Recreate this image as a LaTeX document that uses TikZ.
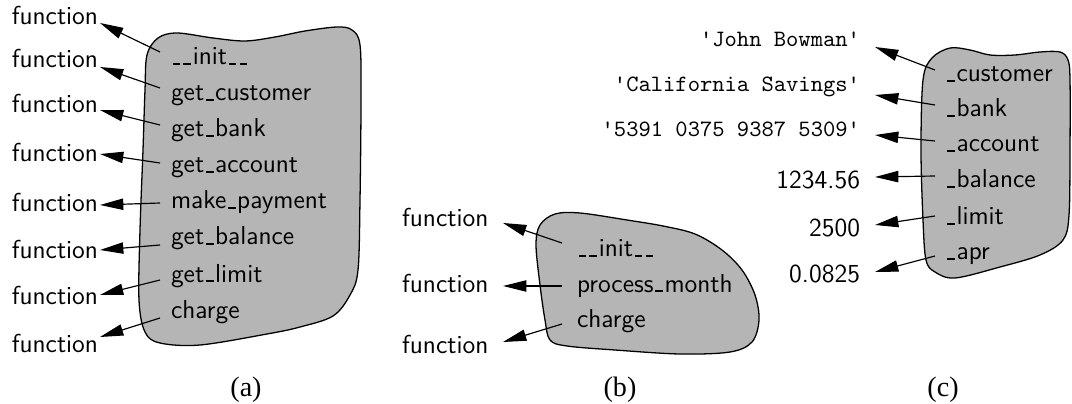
\documentclass[tikz,border=0pt]{standalone}
\usepackage{fontspec}
\setmainfont{Liberation Serif}
\usepackage{tikz}
\usetikzlibrary{arrows.meta}
\definecolor{blobfill}{gray}{0.71}
\newcommand{\usc}{\leavevmode\kern.06em\vbox{\hrule width .3em height .7pt}\kern.06em}
\newcommand{\cmtype}{\fontencoding{OT1}\fontfamily{cmtt}\fontsize{10}{12}\selectfont}
\newcommand{\sq}{{\char13\relax}}
\tikzset{
  blob/.style={draw, fill=blobfill, line width=0.55pt},
  member/.style={anchor=base west, inner sep=0pt, outer xsep=0.165cm, font=\sffamily\fontsize{11.1}{13}\selectfont},
  func/.style={anchor=base east, inner sep=0pt, outer xsep=0.03cm, font=\sffamily\fontsize{11.1}{13}\selectfont},
  strval/.style={func, outer xsep=0.225cm, font=\cmtype},
  numval/.style={func, outer xsep=0.225cm},
  ptr/.style={-{Triangle[length=0.35cm,width=0.17cm]}, line width=0.5pt},
  tag/.style={font=\fontsize{12}{14}\selectfont},
}

\begin{document}
\begin{tikzpicture}[x=0.015cm, y=-0.015cm]
\useasboundingbox (0,0) rectangle (1072,404);

%Blobs
\draw[blob] plot[smooth cycle, tension=0.55] coordinates {(147,55) (158,38) (177,33) (213,38) (245,41) (275,37) (305,31) (337,27) (352,30) (360,45) (361,100) (360,200) (358,270) (350,295) (333,316) (300,327) (267,334) (200,345) (160,343) (145,332) (139,300) (140,230) (143,150) (145,90)};
\draw[blob] plot[smooth cycle, tension=0.55] coordinates {(536,245) (540,225) (555,214) (580,213) (627,220) (663,226) (695,234) (722,250) (742,270) (755,295) (759,320) (752,342) (730,352) (680,354) (615,350) (567,346) (550,340) (545,320) (540,285)};
\draw[blob] plot[smooth cycle, tension=0.55] coordinates {(923,80) (932,58) (950,48) (970,50) (990,55) (1015,55) (1040,52) (1060,52) (1068,60) (1070,80) (1070,150) (1069,215) (1063,240) (1040,255) (1000,267) (955,278) (935,272) (926,260) (923,220) (921,150)};

%Nodes (a)
\node[member] (a1) at (160,65) {\usc\usc init\usc\usc};
\node[member] (a2) at (160,101) {get\usc customer};
\node[member] (a3) at (160,137) {get\usc bank};
\node[member] (a4) at (160,173) {get\usc account};
\node[member] (a5) at (160,209) {make\usc payment};
\node[member] (a6) at (160,245) {get\usc balance};
\node[member] (a7) at (160,282) {get\usc limit};
\node[member] (a8) at (160,318) {charge};
\node[func] (fa1) at (100,25) {function};
\node[func] (fa2) at (100,68) {function};
\node[func] (fa3) at (100,113) {function};
\node[func] (fa4) at (100,162) {function};
\node[func] (fa5) at (100,212) {function};
\node[func] (fa6) at (100,258) {function};
\node[func] (fa7) at (100,305) {function};
\node[func] (fa8) at (100,352) {function};
\node[tag] (capa) at (246,390) {(a)};

%Nodes (b)
\node[member, outer xsep=0.225cm] (b1) at (562,257) {\usc\usc init\usc\usc};
\node[member, outer xsep=0.225cm] (b2) at (562,292) {process\usc month};
\node[member, outer xsep=0.225cm] (b3) at (562,328) {charge};
\node[func, outer xsep=0.22cm] (fb1) at (503,227) {function};
\node[func, outer xsep=0.22cm] (fb2) at (503,292) {function};
\node[func, outer xsep=0.22cm] (fb3) at (503,353) {function};
\node[tag] (capb) at (620,390) {(b)};

%Nodes (c)
\node[member, outer xsep=0.16cm] (c1) at (935,82) {\usc customer};
\node[member, outer xsep=0.16cm] (c2) at (935,117) {\usc bank};
\node[member, outer xsep=0.16cm] (c3) at (935,152) {\usc account};
\node[member, outer xsep=0.16cm] (c4) at (935,188) {\usc balance};
\node[member, outer xsep=0.16cm] (c5) at (935,225) {\usc limit};
\node[member, outer xsep=0.16cm] (c6) at (935,260) {\usc apr};
\node[strval] (v1) at (875,47) {\sq John Bowman\sq};
\node[strval] (v2) at (875,92) {\sq California Savings\sq};
\node[strval] (v3) at (875,137) {\sq 5391 0375 9387 5309\sq};
\node[numval] (v4) at (875,189) {1234.56};
\node[numval] (v5) at (875,237) {2500};
\node[numval] (v6) at (875,283) {0.0825};
\node[tag] (capc) at (943,390) {(c)};

%Lines
\draw[ptr] ([yshift=0.195cm]a1.base west) -- ([yshift=0.03cm]fa1.base east);
\draw[ptr] ([yshift=0.195cm]a2.base west) -- ([yshift=0.015cm]fa2.base east);
\draw[ptr] ([yshift=0.18cm]a3.base west) -- ([yshift=0.045cm]fa3.base east);
\draw[ptr] ([yshift=0.15cm]a4.base west) -- ([yshift=0.12cm]fa4.base east);
\draw[ptr] ([yshift=0.09cm]a5.base west) -- ([yshift=0.105cm]fa5.base east);
\draw[ptr] (a6.base west) -- ([yshift=0.12cm]fa6.base east);
\draw[ptr] ([yshift=0.03cm]a7.base west) -- ([yshift=0.15cm]fa7.base east);
\draw[ptr] (a8.base west) -- ([yshift=0.225cm]fa8.base east);

\draw[ptr] ([yshift=0.21cm]b1.base west) -- ([yshift=0.06cm]fb1.base east);
\draw[ptr] ([yshift=0.09cm]b2.base west) -- ([yshift=0.09cm]fb2.base east);
\draw[ptr] ([yshift=0.06cm]b3.base west) -- ([yshift=0.165cm]fb3.base east);

\draw[ptr] ([yshift=0.18cm]c1.base west) -- (v1.base east);
\draw[ptr] ([yshift=0.18cm]c2.base west) -- ([yshift=-0.045cm]v2.base east);
\draw[ptr] ([yshift=0.165cm]c3.base west) -- ([yshift=0.03cm]v3.base east);
\draw[ptr] ([yshift=0.18cm]c4.base west) -- ([yshift=0.18cm]v4.base east);
\draw[ptr] ([yshift=0.135cm]c5.base west) -- ([yshift=0.18cm]v5.base east);
\draw[ptr] ([yshift=0.06cm]c6.base west) -- ([yshift=0.165cm]v6.base east);
\end{tikzpicture}
\end{document}
